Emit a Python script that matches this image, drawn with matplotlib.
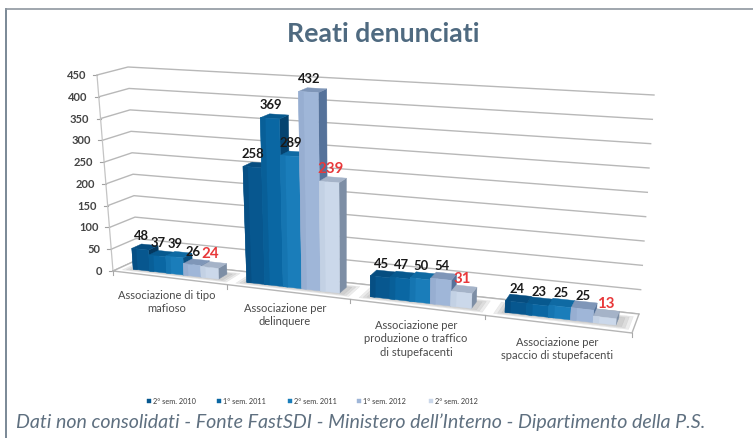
import numpy as np
import matplotlib
matplotlib.use('Agg')
import matplotlib.pyplot as plt
from matplotlib.patches import Polygon

#values
categories = ['Associazione di tipo\nmafioso', 'Associazione per\ndelinquere',
              'Associazione per\nproduzione o traffico\ndi stupefacenti',
              'Associazione per\nspaccio di stupefacenti']
series = ['2° sem. 2010', '1° sem. 2011', '2° sem. 2011', '1° sem. 2012', '2° sem. 2012']
sem_2_2010 = [48, 258, 45, 24]
sem_1_2011 = [37, 369, 47, 23]
sem_2_2011 = [39, 289, 50, 25]
sem_1_2012 = [26, 432, 54, 25]
sem_2_2012 = [24, 239, 31, 13]
y_ticks = [0, 50, 100, 150, 200, 250, 300, 350, 400, 450]

values = [sem_2_2010, sem_1_2011, sem_2_2011, sem_1_2012, sem_2_2012]
front = ['#07578f', '#0a67a3', '#1a7dba', '#9fb6d8', '#cbd8ea']
dark = ['#064f84', '#085f98', '#1575b1', '#97aed1', '#c3d1e4']
top = ['#064d80', '#07598f', '#0f6aa3', '#7f96b8', '#a5b3c8']
side = ['#04385f', '#05436f', '#0a4f80', '#55729a', '#7d8ea5']

# corners of the 3d box on the page, in pixels
FL0, FR0 = np.array([113., 271.]), np.array([632., 333.])
BL0, BR0 = np.array([137., 260.]), np.array([639., 314.])
FL1, FR1 = np.array([97., 75.]), np.array([648., 106.])
BL1, BR1 = np.array([128., 67.]), np.array([654., 95.])
VMAX = 450.
N = len(categories)


def proj(c, d, v):
    # c: category units, d: depth 0 front to 1 back, v: value
    t = c / N
    s = t / (t + (1 - t) * 1.19)
    f = v / VMAX
    p0 = FL0 * (1 - s) + FR0 * s
    p1 = FL1 * (1 - s) + FR1 * s
    q0 = BL0 * (1 - s) + BR0 * s
    q1 = BL1 * (1 - s) + BR1 * s
    a = p0 * (1 - f) + p1 * f
    b = q0 * (1 - f) + q1 * f
    return tuple(a * (1 - d) + b * d)


def face(ax, pts, color, z, alpha=1.0):
    ax.add_patch(Polygon(pts, closed=True, facecolor=color, edgecolor=color, lw=0.3, zorder=z, alpha=alpha))


fig = plt.figure(figsize=(7.53, 4.38), dpi=100)
ax = fig.add_axes([0, 0, 1, 1])
ax.set_xlim(0, 753)
ax.set_ylim(438, 0)
ax.axis('off')

# slide frame
ax.plot([6, 6], [438, 9], color='#6f7f8e', lw=1.3)
ax.plot([6, 753], [9, 9], color='#8f979f', lw=1.2)

plt.rcParams['font.family'] = ['Lato', 'DejaVu Sans']
ax.text(383, 34, 'Reati denunciati', ha='center', va='center', fontsize=19.2, fontweight='bold', color='#4f6a80')

# walls
for v in y_ticks:
    a, b, c = proj(0, 0, v), proj(0, 1, v), proj(N, 1, v)
    ax.plot([a[0], b[0], c[0]], [a[1], b[1], c[1]], color='#b8b8b8', lw=1.0, zorder=1)
    ax.plot([a[0] - 4, a[0]], [a[1], a[1]], color='#a0a0a0', lw=0.8, zorder=1)
    ax.text(a[0] - 11, a[1] + 0.5, str(v), ha='right', va='center', fontsize=8, fontweight='bold', color='#444444')
pts = [proj(0, 0, 0), proj(0, 0, VMAX)]
ax.plot([p[0] for p in pts], [p[1] for p in pts], color='#c4c4c4', lw=0.9, zorder=1)

# floor
face(ax, [proj(0, 0, 0), proj(N, 0, 0), proj(N, 1, 0), proj(0, 1, 0)], '#ffffff', 1.5)
pts = [proj(0, 0, 0), proj(N, 0, 0), proj(N, 1, 0), proj(0, 1, 0), proj(0, 0, 0)]
ax.plot([p[0] for p in pts], [p[1] for p in pts], color='#b5b5b5', lw=1.0, zorder=2)
for i in range(N + 1):
    p = proj(i, 0, 0)
    ax.plot([p[0], p[0]], [p[1], p[1] + 4], color='#a8a8a8', lw=0.8, zorder=2)

# bars
gap = 0.12
bw = (1 - 2 * gap) / len(values)
for i in range(N):
    # soft shadow on the floor, stacked polygons
    for k, grow in enumerate([0.07, 0.045, 0.02]):
        sh = [proj(i + gap - grow, 0.3 - grow * 2, 0), proj(i + 1 - gap + grow + 0.02, 0.3 - grow * 2, 0),
              proj(i + 1 - gap + grow + 0.02, 0.7 + grow * 2, 0), proj(i + gap - grow, 0.7 + grow * 2, 0)]
        face(ax, sh, '#8c8c8c', 2.2 + k * 0.01, alpha=0.16)
    for j, vals in enumerate(values):
        v = vals[i]
        x0 = i + gap + j * bw
        x1 = x0 + bw
        d0, d1 = 0.3, 0.7
        z = 3 + i + j * 0.1
        xm = x0 + 0.25 * bw
        face(ax, [proj(x1, d0, 0), proj(x1, d1, 0), proj(x1, d1, v), proj(x1, d0, v)], side[j], z)
        face(ax, [proj(x0, d0, v), proj(x1, d0, v), proj(x1, d1, v), proj(x0, d1, v)], top[j], z + 0.01)
        face(ax, [proj(x0, d0, 0), proj(x1, d0, 0), proj(x1, d0, v), proj(x0, d0, v)], front[j], z + 0.02)
        face(ax, [proj(x0, d0, 0), proj(xm, d0, 0), proj(xm, d0, v), proj(x0, d0, v)], dark[j], z + 0.03)
        lx, ly = proj((x0 + x1) / 2, d0, v)
        last = j == len(values) - 1
        ax.text(lx + 1, ly - 13, str(v), ha='center', va='center', fontsize=10.8 if last else 9.4, fontweight='bold',
                color='#e8383a' if last else '#1a1a1a', zorder=20)

# category labels
cat_pos = [(167, 302), (285, 315), (416, 339), (557, 349)]
for name, (x, y) in zip(categories, cat_pos):
    ax.text(x, y, name, ha='center', va='center', fontsize=8, color='#4a4a4a', linespacing=1.3)

# legend
leg_x = [147, 217, 288, 357, 429]
for name, x, c in zip(series, leg_x, front):
    ax.add_patch(Polygon([(x, 399), (x + 4, 399), (x + 4, 403), (x, 403)], facecolor=c, edgecolor=c, lw=0.3))
    ax.text(x + 6, 401, name, ha='left', va='center', fontsize=5.3, color='#3c3c3c')

ax.text(16, 422, "Dati non consolidati - Fonte FastSDI - Ministero dell’Interno - Dipartimento della P.S.",
        ha='left', va='center', fontsize=14.1, style='italic', color='#5f7080')

fig.savefig('out.png', dpi=100)
